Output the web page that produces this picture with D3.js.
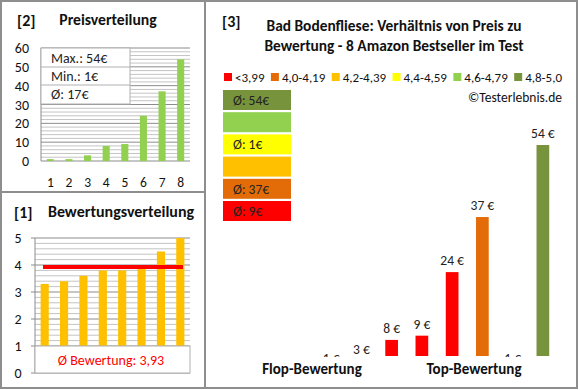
<!DOCTYPE html>
<html><head><meta charset="utf-8">
<script src="https://cdn.jsdelivr.net/npm/d3@7"></script>
<style>
html,body{margin:0;padding:0;background:#fff;}
svg text{font-family:Carlito,Lato,"Liberation Sans",sans-serif;}
</style></head>
<body><svg id="c" width="580" height="390"></svg>
<script>
// ---- data ----
const products = [1,2,3,4,5,6,7,8];
const ratings = [3.3,3.4,3.6,3.8,3.8,4.0,4.5,5.0];
const prices = [1,3,8,9,24,37,1,54];
const priceDist = [1,1,3,8,9,24,37,54];
const priceTicks = [0,10,20,30,40,50,60];
const ratingTicks = [0,1,2,3,4,5];
const legendLabels = ["<3,99","4,0-4,19","4,2-4,39","4,4-4,59","4,6-4,79","4,8-5,0"];
const classBounds = [4.0,4.2,4.4,4.6,4.8];
const classColors = ["#FF0000","#E36C09","#FFC000","#FFFF00","#92D050","#77933C"];
const groupNames = ["Flop-Bewertung","Top-Bewertung"];
const title3 = ["Bad Bodenfliese: Verhältnis von Preis zu","Bewertung - 8 Amazon Bestseller im Test"];

const svg = d3.select("#c");
const border = "#8e8e8e";
const txt = "#111";

// panel frames
svg.append("rect").attr("x",1).attr("y",1).attr("width",576).attr("height",387)
  .attr("fill","none").attr("stroke",border).attr("stroke-width",2);
svg.append("line").attr("x1",205).attr("x2",205).attr("y1",1).attr("y2",388).attr("stroke",border).attr("stroke-width",2);
svg.append("line").attr("x1",1).attr("x2",205).attr("y1",192).attr("y2",192).attr("stroke",border).attr("stroke-width",2);

// ================= Panel [2] Preisverteilung =================
svg.append("text").attr("x",17).attr("y",26).attr("font-size",16).attr("font-weight","bold").attr("fill",txt).text("[2]");
svg.append("text").attr("x",108).attr("y",25).attr("text-anchor","middle").attr("font-size",15.7).attr("font-weight","bold").attr("fill",txt).text("Preisverteilung");

const x2 = d3.scaleBand().domain(products).range([41,190]).paddingInner(0.62).paddingOuter(0.31);
const y2 = d3.scaleLinear().domain([0,60]).range([161,48]);
const g2 = svg.append("g");
g2.selectAll("line.minor").data(d3.range(0,61,2)).join("line")
  .attr("x1",41).attr("x2",190).attr("y1",d=>y2(d)).attr("y2",d=>y2(d))
  .attr("stroke",d=>d%10===0?"#8c8c8c":"#c4c4c4").attr("stroke-width",1);
g2.append("line").attr("x1",41).attr("x2",41).attr("y1",48).attr("y2",161).attr("stroke","#8c8c8c");
g2.selectAll("rect.bar").data(priceDist).join("rect")
  .attr("x",(d,i)=>x2(products[i])).attr("width",x2.bandwidth())
  .attr("y",d=>y2(d)).attr("height",d=>y2(0)-y2(d)).attr("fill","#92D050");
g2.selectAll("text.yl").data(priceTicks).join("text")
  .attr("x",29).attr("y",d=>y2(d)+5).attr("text-anchor","end").attr("font-size",14).attr("fill",txt).text(d=>d);
g2.selectAll("text.xl").data(products).join("text")
  .attr("x",d=>x2(d)+x2.bandwidth()/2).attr("y",187).attr("text-anchor","middle").attr("font-size",13.5).attr("fill",txt).text(d=>d);
// info box
const pMax = d3.max(priceDist), pMin = d3.min(priceDist), pAvg = Math.round(d3.mean(priceDist));
g2.append("rect").attr("x",41).attr("y",48).attr("width",89).attr("height",56).attr("fill","#fff").attr("stroke","#b0b0b0");
g2.append("line").attr("x1",41).attr("x2",130).attr("y1",67).attr("y2",67).attr("stroke","#b0b0b0");
g2.append("line").attr("x1",41).attr("x2",130).attr("y1",85).attr("y2",85).attr("stroke","#b0b0b0");
[["Max.: "+pMax+"€",63],["Min.: "+pMin+"€",81],["Ø: "+pAvg+"€",99]].forEach(([t,yy])=>{
  g2.append("text").attr("x",51).attr("y",yy).attr("font-size",14).attr("fill","#222").text(t);
});

// ================= Panel [1] Bewertungsverteilung =================
svg.append("text").attr("x",14).attr("y",218).attr("font-size",16).attr("font-weight","bold").attr("fill",txt).text("[1]");
svg.append("text").attr("x",121).attr("y",217).attr("text-anchor","middle").attr("font-size",16).attr("font-weight","bold").attr("fill",txt).text("Bewertungsverteilung");

const x1 = d3.scaleBand().domain(products).range([35,190]).paddingInner(0.58).paddingOuter(0.29);
const y1 = d3.scaleLinear().domain([0,5]).range([373,238]);
const g1 = svg.append("g");
g1.selectAll("line.grid").data(d3.range(0,26).map(i=>i/5)).join("line")
  .attr("x1",35).attr("x2",190).attr("y1",d=>y1(d)).attr("y2",d=>y1(d))
  .attr("stroke",(d,i)=>i%5===0?"#8c8c8c":"#c4c4c4");
g1.append("line").attr("x1",35).attr("x2",35).attr("y1",238).attr("y2",373).attr("stroke","#8c8c8c");
g1.selectAll("line.tk").data(ratingTicks).join("line")
  .attr("x1",31).attr("x2",35).attr("y1",d=>y1(d)).attr("y2",d=>y1(d)).attr("stroke","#8c8c8c");
g1.selectAll("text.yl").data(ratingTicks).join("text")
  .attr("x",18).attr("y",d=>y1(d)+5).attr("text-anchor","middle").attr("font-size",14).attr("fill",txt).text(d=>d);
g1.selectAll("rect.bar").data(ratings).join("rect")
  .attr("x",(d,i)=>x1(products[i])).attr("width",x1.bandwidth())
  .attr("y",d=>y1(d)).attr("height",d=>y1(0)-y1(d)).attr("fill","#FFC000");
const rAvg = d3.mean(ratings);
const rAvgTxt = (Math.round(rAvg*100+1e-6)/100).toFixed(2).replace(".",",");
g1.append("line").attr("x1",43).attr("x2",183).attr("y1",y1(rAvg)).attr("y2",y1(rAvg)).attr("stroke","#FF0000").attr("stroke-width",4);
g1.append("rect").attr("x",35).attr("y",y1(1)).attr("width",155).attr("height",y1(0)-y1(1)).attr("fill","#fff").attr("stroke","#b0b0b0");
g1.append("text").attr("x",111).attr("y",365).attr("text-anchor","middle").attr("font-size",14).attr("fill","#FF0000")
  .text("Ø Bewertung: "+rAvgTxt);

// ================= Panel [3] =================
svg.append("text").attr("x",222).attr("y",27).attr("font-size",16).attr("font-weight","bold").attr("fill",txt).text("[3]");
svg.selectAll("text.t3").data(title3).join("text")
  .attr("x",394).attr("y",(d,i)=>31+i*20).attr("text-anchor","middle").attr("font-size",15.4).attr("font-weight","bold").attr("fill",txt).text(d=>d);

const cls = r => { let k=0; classBounds.forEach(b=>{ if(r>=b-1e-9) k++; }); return k; };
// legend
let lx = 224;
legendLabels.forEach((l,i)=>{
  svg.append("rect").attr("x",lx).attr("y",73).attr("width",8).attr("height",8).attr("fill",classColors[i]);
  const t = svg.append("text").attr("x",lx+11).attr("y",82).attr("font-size",13).attr("fill",txt).text(l);
  lx += 11 + t.node().getComputedTextLength() + 6.4;
});
svg.append("text").attr("x",562).attr("y",102).attr("text-anchor","end").attr("font-size",13.5).attr("fill",txt).text("©Testerlebnis.de");

// class boxes (top = best class)
const boxOrder = d3.range(classColors.length).reverse();
boxOrder.forEach((c,j)=>{
  const ps = prices.filter((p,i)=>cls(ratings[i])===c);
  const yy = 90 + j*22.2;
  svg.append("rect").attr("x",223).attr("y",yy).attr("width",68).attr("height",20).attr("fill",classColors[c]);
  if(ps.length) svg.append("text").attr("x",233).attr("y",yy+15).attr("font-size",13.5).attr("fill","#222")
    .text("Ø: "+Math.round(d3.mean(ps))+"€");
});

// main bars
const x3 = d3.scaleBand().domain(products).range([316,558]).paddingInner(0.58).paddingOuter(0.29);
const y3 = d3.scaleLinear().domain([4.2,54]).range([356,145]);
const base = y3.range()[0];
svg.append("defs").append("clipPath").attr("id","clip3").append("rect").attr("x",300).attr("y",100).attr("width",270).attr("height",base+1-100);
const g3 = svg.append("g").attr("clip-path","url(#clip3)");
g3.selectAll("rect.bar").data(prices).join("rect")
  .attr("x",(d,i)=>x3(products[i])).attr("width",x3.bandwidth())
  .attr("y",d=>Math.min(y3(d),base)).attr("height",d=>Math.max(0,base-y3(d)))
  .attr("fill",(d,i)=>classColors[cls(ratings[i])]);
g3.selectAll("text.lab").data(prices).join("text")
  .attr("x",(d,i)=>x3(products[i])+x3.bandwidth()/2).attr("y",d=>y3(d)-7)
  .attr("text-anchor","middle").attr("font-size",13.5).attr("fill","#222").text(d=>d+" €");
svg.selectAll("text.grp").data(groupNames).join("text")
  .attr("x",(d,i)=>i===0?312:474).attr("y",374).attr("text-anchor","middle").attr("font-size",15).attr("font-weight","bold").attr("fill",txt).text(d=>d);
</script></body></html>
